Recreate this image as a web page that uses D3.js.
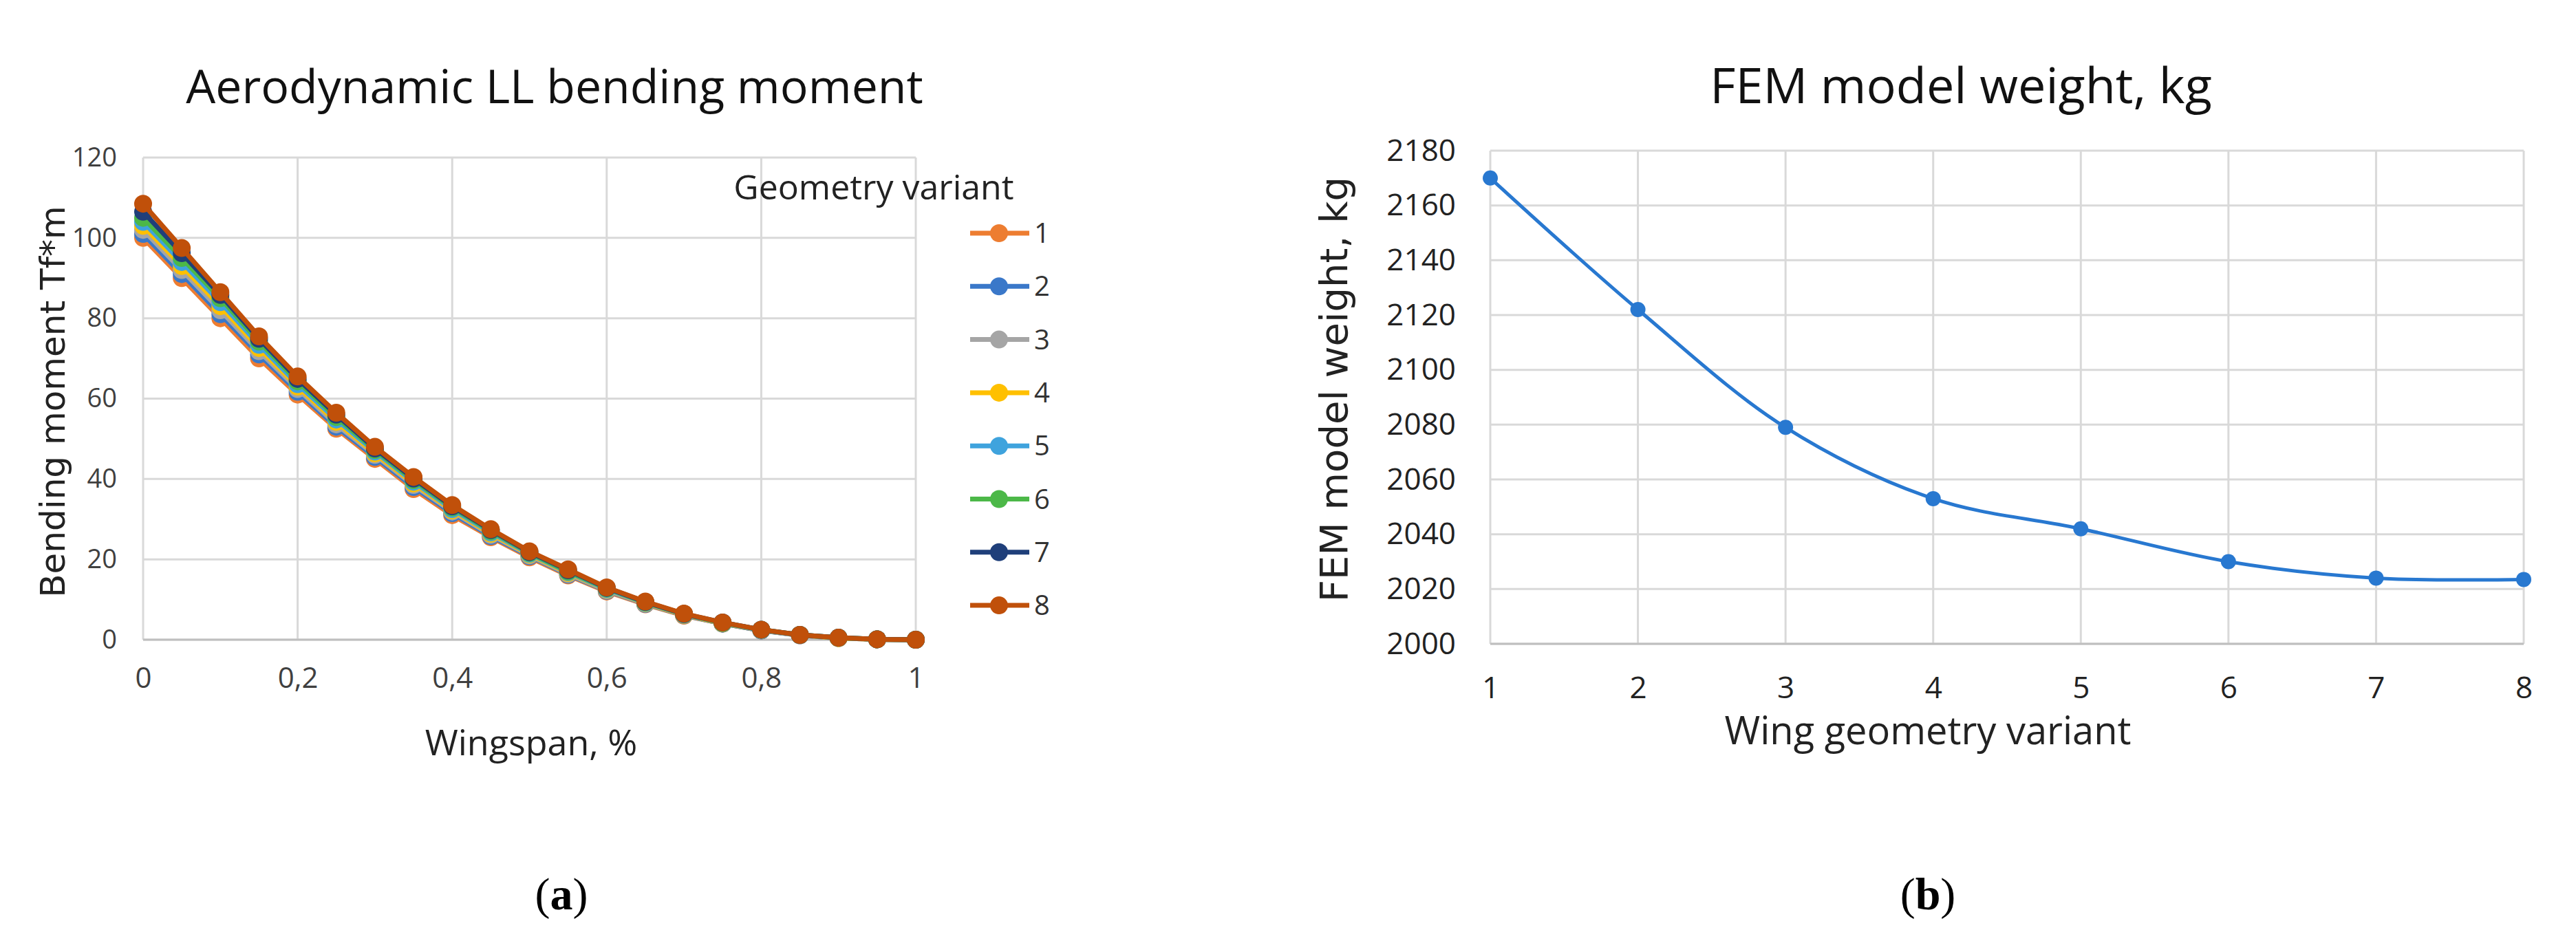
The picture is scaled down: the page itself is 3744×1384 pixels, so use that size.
<!DOCTYPE html>
<html><head><meta charset="utf-8">
<script src="https://cdn.jsdelivr.net/npm/d3@7"></script>
<style>body{margin:0;background:#fff}</style></head>
<body><svg id="c" width="3744" height="1384"></svg>
<script>
const span = [0,0.05,0.1,0.15,0.2,0.25,0.3,0.35,0.4,0.45,0.5,0.55,0.6,0.65,0.7,0.75,0.8,0.85,0.9,0.95,1];
const v1 = [100,90,80,70,61,52.5,45,37.5,31,25.5,20.5,16,12,8.8,6,4,2.3,1.1,0.4,0.1,0];
const v2 = [101,91,81,71,61.7,53,45.5,38,31.5,25.8,20.8,16.2,12.2,8.9,6.1,4,2.3,1.1,0.4,0.1,0];
const v3 = [102,92,82,71.8,62.4,53.6,46,38.5,31.9,26.1,21,16.4,12.3,9,6.2,4.1,2.4,1.1,0.4,0.1,0];
const v4 = [103,93,83,72.6,63,54.2,46.4,38.9,32.2,26.4,21.2,16.6,12.5,9.1,6.2,4.1,2.4,1.2,0.4,0.1,0];
const v5 = [104,94,84,73.4,63.6,54.8,46.8,39.3,32.5,26.7,21.4,16.8,12.6,9.2,6.3,4.2,2.4,1.2,0.5,0.1,0];
const v6 = [105,95,85,74.2,64.3,55.4,47.2,39.7,32.9,27,21.6,17,12.8,9.3,6.4,4.2,2.5,1.2,0.5,0.1,0];
const v7 = [106.5,96.2,85.8,74.9,64.9,56,47.6,40.1,33.2,27.3,21.8,17.3,12.9,9.4,6.4,4.3,2.5,1.2,0.5,0.1,0];
const v8 = [108.5,97.5,86.5,75.5,65.5,56.5,48,40.5,33.5,27.5,22,17.5,13,9.5,6.5,4.3,2.5,1.2,0.5,0.1,0];
const seriesNames = ["1","2","3","4","5","6","7","8"];
const seriesColors = ["#ED7D31","#3A78C9","#A5A5A5","#FFC000","#3FA3DD","#4CB848","#1F3F7A","#C0500A"];
const leftXTicks = [0,0.2,0.4,0.6,0.8,1];
const leftYTicks = [0,20,40,60,80,100,120];
const variants = [1,2,3,4,5,6,7,8];
const weights = [2170,2122,2079,2053,2042,2030,2024,2023.5];
const rightYTicks = [2000,2020,2040,2060,2080,2100,2120,2140,2160,2180];

const svg = d3.select("#c");
const txtFont = "'Liberation Sans Narrow','Open Sans',sans-serif";
const grid = "#d9d9d9";

// ---------- Left chart ----------
const xL = d3.scaleLinear().domain([0,1]).range([208,1331]);
const yL = d3.scaleLinear().domain([0,120]).range([930,229]);
const gL = svg.append("g");
leftYTicks.forEach(t=>gL.append("line").attr("x1",xL(0)).attr("x2",xL(1)).attr("y1",yL(t)).attr("y2",yL(t)).attr("stroke",grid).attr("stroke-width",3));
leftXTicks.forEach(t=>gL.append("line").attr("x1",xL(t)).attr("x2",xL(t)).attr("y1",yL(0)).attr("y2",yL(120)).attr("stroke",grid).attr("stroke-width",3));
const yAxL = gL.append("g").attr("transform","translate(170,0)").call(d3.axisLeft(yL).tickValues(leftYTicks).tickSize(0).tickPadding(0));
yAxL.select(".domain").remove();
yAxL.selectAll("text").attr("font-family",txtFont).attr("font-size",38).attr("fill","#404040");
const xAxL = gL.append("g").attr("transform","translate(0,970)").call(d3.axisBottom(xL).tickValues(leftXTicks).tickSize(0).tickPadding(0).tickFormat(d=>String(d).replace(".",",")));
xAxL.select(".domain").remove();
xAxL.selectAll("text").attr("font-family",txtFont).attr("font-size",42).attr("fill","#404040");
gL.append("line").attr("x1",xL(0)).attr("x2",xL(1)).attr("y1",yL(0)).attr("y2",yL(0)).attr("stroke","#bfbfbf").attr("stroke-width",3);

const allSeries = [v1,v2,v3,v4,v5,v6,v7,v8];
const lineL = d3.line().x((d,i)=>xL(span[i])).y(d=>yL(d));
allSeries.forEach((s,k)=>{
  gL.append("path").attr("d",lineL(s)).attr("fill","none").attr("stroke",seriesColors[k]).attr("stroke-width",7);
  gL.selectAll(null).data(s).enter().append("circle").attr("cx",(d,i)=>xL(span[i])).attr("cy",d=>yL(d)).attr("r",13).attr("fill",seriesColors[k]);
});
svg.append("text").attr("x",806).attr("y",150).attr("text-anchor","middle").attr("font-family",txtFont).attr("font-size",68).attr("fill","#111").text("Aerodynamic LL bending moment");
svg.append("text").attr("x",1270).attr("y",290).attr("text-anchor","middle").attr("font-family",txtFont).attr("font-size",50).attr("fill","#222").text("Geometry variant");
seriesNames.forEach((n,k)=>{
  const y = 339 + k*77.3;
  svg.append("line").attr("x1",1410).attr("x2",1496).attr("y1",y).attr("y2",y).attr("stroke",seriesColors[k]).attr("stroke-width",7);
  svg.append("circle").attr("cx",1452).attr("cy",y).attr("r",13).attr("fill",seriesColors[k]);
  svg.append("text").attr("x",1503).attr("y",y+14).attr("font-family",txtFont).attr("font-size",40).attr("fill","#333").text(n);
});
svg.append("text").attr("transform","translate(94,584) rotate(-90)").attr("text-anchor","middle").attr("font-family","'DejaVu Sans',sans-serif").attr("font-size",50).attr("fill","#222").text("Bending moment Tf*m");
svg.append("text").attr("x",772).attr("y",1098).attr("text-anchor","middle").attr("font-family",txtFont).attr("font-size",52).attr("fill","#222").text("Wingspan, %");
const lab = (x,l)=>{const t=svg.append("text").attr("x",x).attr("y",1322).attr("text-anchor","middle").attr("font-family","'Liberation Serif',serif").attr("font-size",66).attr("fill","#000");
  t.append("tspan").text("(");t.append("tspan").attr("font-weight","bold").text(l);t.append("tspan").text(")");};
lab(816,"a");

// ---------- Right chart ----------
const xR = d3.scaleLinear().domain([1,8]).range([2166,3668]);
const yR = d3.scaleLinear().domain([2000,2180]).range([936,219]);
const gR = svg.append("g");
rightYTicks.forEach(t=>gR.append("line").attr("x1",xR(1)).attr("x2",xR(8)).attr("y1",yR(t)).attr("y2",yR(t)).attr("stroke",grid).attr("stroke-width",3));
variants.forEach(t=>gR.append("line").attr("x1",xR(t)).attr("x2",xR(t)).attr("y1",yR(2000)).attr("y2",yR(2180)).attr("stroke",grid).attr("stroke-width",3));
gR.append("line").attr("x1",xR(1)).attr("x2",xR(8)).attr("y1",yR(2000)).attr("y2",yR(2000)).attr("stroke","#bfbfbf").attr("stroke-width",3);
const yAxR = gR.append("g").attr("transform","translate(2116,0)").call(d3.axisLeft(yR).tickValues(rightYTicks).tickSize(0).tickPadding(0).tickFormat(d3.format("d")));
yAxR.select(".domain").remove();
yAxR.selectAll("text").attr("font-family",txtFont).attr("font-size",44).attr("fill","#222");
const xAxR = gR.append("g").attr("transform","translate(0,984)").call(d3.axisBottom(xR).tickValues(variants).tickSize(0).tickPadding(0).tickFormat(d3.format("d")));
xAxR.select(".domain").remove();
xAxR.selectAll("text").attr("font-family",txtFont).attr("font-size",44).attr("fill","#222");
const lineR = d3.line().x((d,i)=>xR(variants[i])).y(d=>yR(d)).curve(d3.curveCatmullRom.alpha(0.5));
gR.append("path").attr("d",lineR(weights)).attr("fill","none").attr("stroke","#2878D0").attr("stroke-width",5);
gR.selectAll(null).data(weights).enter().append("circle").attr("cx",(d,i)=>xR(variants[i])).attr("cy",d=>yR(d)).attr("r",11).attr("fill","#2878D0");
svg.append("text").attr("x",2850).attr("y",150).attr("text-anchor","middle").attr("font-family",txtFont).attr("font-size",72).attr("fill","#111").text("FEM model weight, kg");
svg.append("text").attr("transform","translate(1958,566) rotate(-90)").attr("text-anchor","middle").attr("font-family","'DejaVu Sans',sans-serif").attr("font-size",56).attr("fill","#222").text("FEM model weight, kg");
svg.append("text").attr("x",2802).attr("y",1082).attr("text-anchor","middle").attr("font-family",txtFont).attr("font-size",56).attr("fill","#222").text("Wing geometry variant");
lab(2802,"b");
</script></body></html>
